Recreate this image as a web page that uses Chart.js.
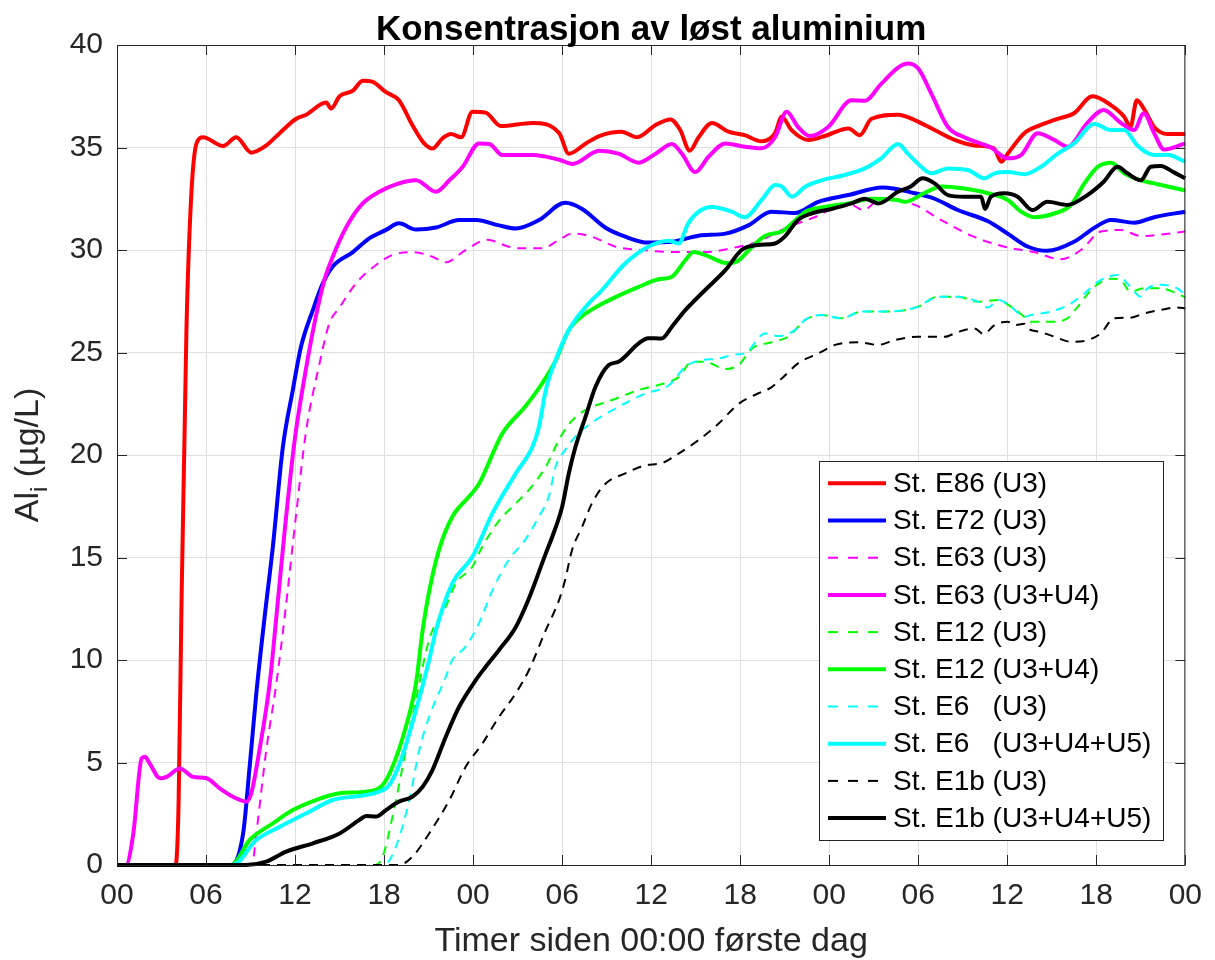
<!DOCTYPE html>
<html>
<head>
<meta charset="utf-8">
<title>Konsentrasjon av løst aluminium</title>
<script src="https://cdn.jsdelivr.net/npm/chart.js@4.4.1/dist/chart.umd.min.js"></script>
<style>
html, body { margin: 0; padding: 0; background: #fff; }
#wrap { width: 1215px; height: 960px; }
</style>
</head>
<body>
<div id="wrap"><canvas id="al-chart" width="1215" height="960"></canvas></div>
<script>
"use strict";

// timer (hours since 00:00 first day) and Al_i (ug/L)
var timerE86 = [0, 3.95, 4.15, 4.35, 4.68, 5.0, 5.36, 5.8, 7.15, 8.04, 9.05, 10.06, 10.96, 12.08, 12.75, 14.1, 14.43, 15.0, 15.9, 16.56, 17.23, 18.13, 19.0, 19.9, 20.7, 21.26, 21.94, 22.5, 23.2, 23.95, 24.85, 25.86, 28.0, 29.8, 30.45, 31.6, 32.5, 34.0, 35.05, 36.3, 37.3, 37.96, 38.6, 39.2, 40.1, 41.2, 42.3, 43.45, 44.35, 44.8, 45.46, 46.6, 47.7, 49.3, 50.06, 50.85, 52.64, 53.76, 55.1, 56.45, 57.8, 59.1, 59.6, 60.03, 61.15, 62.27, 63.4, 64.5, 65.75, 66.98, 67.88, 68.3, 68.73, 69.2, 69.9, 70.8, 72];
var alE86 = [0, 0, 3, 12.9, 26.1, 32.6, 35.2, 35.5, 35.07, 35.5, 34.75, 35.1, 35.7, 36.4, 36.6, 37.2, 36.9, 37.5, 37.77, 38.26, 38.2, 37.7, 37.3, 36.1, 35.2, 34.95, 35.45, 35.66, 35.5, 36.75, 36.7, 36.05, 36.2, 35.7, 34.7, 35.2, 35.56, 35.77, 35.5, 36.1, 36.37, 35.85, 34.84, 35.5, 36.2, 35.77, 35.6, 35.3, 35.7, 36.5, 35.85, 35.37, 35.56, 35.93, 35.6, 36.4, 36.6, 36.34, 35.85, 35.37, 35.1, 34.96, 34.3, 34.7, 35.7, 36.1, 36.4, 36.67, 37.5, 37.07, 36.5, 36.0, 37.3, 36.9, 36.0, 35.66, 35.66];

var timerE72 = [0, 7.7, 8.5, 8.94, 9.39, 9.95, 10.5, 11.18, 11.85, 12.4, 13.2, 13.87, 14.54, 15.9, 17.0, 18.13, 19.0, 20.15, 21.5, 23.06, 24.2, 25.75, 26.87, 28.44, 30.2, 31.35, 32.9, 34.26, 35.8, 37.4, 39.2, 41.0, 42.55, 44.1, 45.7, 47.26, 49.3, 51.6, 53.76, 55.1, 56.67, 58.7, 60.03, 61.4, 62.7, 64.5, 65.9, 67.0, 68.55, 69.9, 72];
var alE72 = [0, 0, 1.54, 4.79, 8.37, 12.1, 15.5, 20.4, 23.17, 25.28, 27.07, 28.37, 29.2, 29.9, 30.57, 30.98, 31.3, 31.0, 31.1, 31.46, 31.46, 31.2, 31.05, 31.46, 32.3, 32.0, 31.1, 30.65, 30.36, 30.4, 30.7, 30.8, 31.2, 31.87, 31.8, 32.35, 32.68, 33.05, 32.77, 32.5, 31.95, 31.4, 30.8, 30.16, 29.96, 30.4, 31.1, 31.46, 31.33, 31.6, 31.87];

var timerE63 = [0, 9.1, 9.39, 10.06, 10.74, 11.3, 12.08, 12.75, 13.65, 14.3, 15.0, 16.1, 17.46, 18.57, 19.9, 21.26, 22.16, 23.5, 24.96, 26.4, 27.1, 28.66, 29.8, 30.7, 32.0, 33.6, 35.4, 37.4, 39.6, 41.9, 43.2, 44.8, 47.0, 49.3, 50.3, 51.5, 53.76, 55.55, 57.57, 59.8, 61.8, 63.6, 64.97, 66.3, 67.65, 69.0, 72];
var alE63 = [0, 0, 1.54, 5.6, 8.86, 12.1, 17.15, 21.2, 24.46, 26.4, 27.2, 28.37, 29.27, 29.76, 29.9, 29.67, 29.4, 30.0, 30.5, 30.16, 30.08, 30.08, 30.5, 30.8, 30.65, 30.16, 30.0, 29.9, 29.9, 30.16, 30.4, 30.98, 31.6, 32.27, 31.95, 32.5, 32.2, 31.46, 30.7, 30.16, 29.9, 29.55, 30.0, 30.9, 30.98, 30.68, 30.9];

var timerE63u4 = [0, 0.6, 1.1, 1.66, 1.88, 2.2, 2.9, 3.34, 4.24, 5.13, 6.03, 6.92, 7.82, 8.72, 9.05, 9.6, 10.29, 10.74, 11.3, 11.97, 12.64, 13.3, 13.98, 14.54, 15.44, 16.56, 17.68, 18.8, 20.15, 21.5, 22.4, 23.3, 24.4, 25.1, 25.97, 28.0, 29.8, 30.7, 32.5, 33.8, 35.16, 36.3, 37.4, 38.07, 38.97, 39.87, 41.0, 42.3, 43.45, 44.35, 45.13, 45.9, 46.7, 47.93, 49.5, 50.4, 51.5, 52.64, 53.3, 54.0, 54.9, 56.0, 57.1, 58.9, 60.03, 60.93, 62.05, 63.17, 64.07, 65.4, 66.5, 67.65, 68.55, 69.2, 69.9, 70.57, 72];
var alE63u4 = [0, 0, 1.54, 5.2, 5.28, 4.96, 4.23, 4.3, 4.71, 4.3, 4.23, 3.74, 3.33, 3.09, 3.5, 5.6, 8.86, 12.1, 16.3, 20.7, 23.8, 26.4, 28.54, 29.67, 31.1, 32.27, 32.84, 33.2, 33.4, 32.84, 33.4, 34.06, 35.2, 35.17, 34.63, 34.63, 34.4, 34.2, 34.84, 34.7, 34.26, 34.7, 35.17, 34.7, 33.8, 34.55, 35.2, 35.04, 34.96, 35.5, 36.75, 36.0, 35.56, 36.0, 37.3, 37.28, 38.1, 38.9, 39.1, 38.85, 37.6, 36.0, 35.5, 35.0, 34.47, 34.63, 35.7, 35.37, 35.04, 36.2, 36.83, 36.2, 35.85, 36.67, 35.7, 34.9, 35.2];

var timerE12 = [0, 17.4, 17.9, 18.57, 19.25, 20.15, 21.04, 22.16, 22.84, 23.95, 24.6, 25.75, 26.64, 27.76, 28.9, 29.78, 30.45, 31.58, 33.37, 35.16, 36.9, 37.85, 38.74, 39.64, 41.0, 41.9, 42.8, 44.1, 45.24, 46.4, 47.5, 48.8, 50.2, 52.0, 53.98, 55.3, 56.7, 58.0, 59.4, 60.26, 61.15, 61.6, 62.95, 64.07, 64.74, 65.86, 67.0, 67.6, 68.3, 69.2, 70.3, 71.46, 72];
var alE12 = [0, 0, 0.4, 2.36, 4.79, 8.05, 11.0, 12.6, 13.74, 14.55, 15.5, 16.8, 17.47, 18.3, 19.43, 20.73, 21.5, 22.2, 22.68, 23.17, 23.5, 23.8, 24.55, 24.55, 24.2, 24.4, 25.2, 25.5, 25.77, 26.6, 26.83, 26.67, 27.0, 27.0, 27.23, 27.72, 27.72, 27.48, 27.56, 27.23, 26.74, 26.5, 26.5, 26.67, 27.23, 28.2, 28.6, 28.57, 27.97, 28.13, 28.13, 27.88, 27.68];

var timerE12u4 = [0, 7.7, 8.94, 10.5, 11.85, 13.4, 15.0, 16.8, 17.9, 18.57, 19.47, 20.15, 20.6, 21.0, 21.7, 22.6, 23.73, 24.4, 25.97, 27.5, 28.66, 29.56, 30.45, 31.58, 32.5, 33.6, 35.16, 36.5, 37.4, 38.3, 38.86, 39.6, 41.2, 41.9, 42.8, 43.7, 44.8, 45.5, 46.4, 47.7, 49.3, 50.85, 52.6, 53.1, 54.4, 55.55, 57.1, 58.7, 60.03, 60.93, 61.83, 63.17, 64.3, 65.2, 66.1, 67.0, 67.88, 69.0, 69.9, 72];
var alE12u4 = [0, 0, 1.22, 2.03, 2.68, 3.17, 3.5, 3.58, 3.9, 4.79, 6.74, 8.86, 11.46, 13.2, 15.37, 16.99, 17.97, 18.6, 21.05, 22.35, 23.5, 24.6, 26.1, 26.9, 27.3, 27.7, 28.2, 28.57, 28.7, 29.5, 29.9, 29.76, 29.35, 29.5, 30.16, 30.7, 30.9, 31.3, 31.87, 32.1, 32.27, 32.5, 32.44, 32.35, 32.77, 33.1, 33.0, 32.77, 32.44, 31.87, 31.6, 31.78, 32.2, 33.25, 34.06, 34.26, 33.74, 33.4, 33.25, 32.9];

var timerE6 = [0, 18.0, 18.8, 19.7, 20.37, 21.04, 22.16, 22.6, 23.5, 24.4, 25.3, 26.4, 27.5, 28.44, 29.1, 29.56, 30.2, 31.1, 32.25, 33.8, 35.6, 37.2, 38.3, 39.2, 40.5, 41.66, 42.3, 43.68, 44.6, 45.7, 46.4, 47.5, 48.8, 50.2, 52.0, 53.98, 55.3, 56.7, 58.0, 58.7, 59.4, 60.26, 61.15, 61.6, 62.95, 64.07, 65.2, 66.1, 67.43, 68.3, 69.0, 69.4, 70.3, 71.46, 72];
var alE6 = [0, 0, 0.9, 3.17, 5.6, 7.23, 9.18, 10.0, 10.65, 11.8, 13.4, 14.88, 15.85, 17.0, 17.97, 19.43, 20.24, 21.05, 21.7, 22.35, 23.0, 23.4, 24.3, 24.6, 24.7, 24.9, 24.95, 25.93, 25.8, 26.1, 26.6, 26.83, 26.67, 27.0, 27.0, 27.23, 27.72, 27.72, 27.48, 27.2, 27.56, 27.23, 26.74, 26.83, 27.0, 27.3, 27.88, 28.45, 28.78, 28.2, 27.72, 28.1, 28.3, 28.13, 27.8];

var timerE6u5 = [0, 7.8, 9.39, 10.96, 12.75, 14.54, 16.34, 17.46, 18.35, 19.14, 20.15, 21.04, 21.5, 22.6, 23.95, 25.3, 26.87, 28.0, 28.44, 28.9, 29.56, 30.45, 32.0, 32.5, 34.26, 35.8, 37.2, 37.85, 38.5, 39.2, 40.1, 41.43, 42.3, 43.45, 44.35, 44.8, 45.5, 46.4, 47.5, 49.05, 50.4, 51.5, 52.64, 53.3, 54.2, 54.88, 56.0, 57.34, 58.47, 59.14, 60.03, 61.15, 62.27, 63.4, 64.5, 65.86, 66.98, 67.88, 68.77, 69.9, 70.8, 72];
var alE6u5 = [0, 0, 1.22, 1.86, 2.52, 3.17, 3.37, 3.53, 3.9, 5.12, 7.56, 10.0, 11.46, 13.74, 15.04, 17.15, 19.1, 20.4, 21.38, 23.17, 24.63, 26.1, 27.56, 27.9, 29.35, 30.16, 30.45, 30.32, 31.3, 31.87, 32.1, 31.87, 31.6, 32.44, 33.17, 33.1, 32.6, 33.1, 33.4, 33.66, 33.98, 34.47, 35.17, 34.7, 34.06, 33.74, 33.98, 33.9, 33.5, 33.74, 33.8, 33.7, 34.06, 34.7, 35.2, 36.15, 35.85, 35.85, 35.1, 34.63, 34.65, 34.3];

var timerE1b = [0, 19.0, 19.9, 21.04, 22.4, 23.5, 24.63, 25.75, 26.87, 27.76, 28.9, 29.78, 30.2, 30.67, 31.35, 32.0, 32.92, 34.26, 35.6, 36.7, 37.85, 39.2, 40.5, 41.9, 43.2, 44.1, 44.8, 45.9, 47.26, 48.4, 49.95, 51.3, 52.4, 53.98, 55.8, 56.67, 57.8, 58.4, 59.14, 60.03, 60.5, 61.15, 61.4, 62.27, 63.17, 64.3, 65.4, 66.3, 67.2, 68.3, 69.2, 70.3, 71.46, 72];
var alE1b = [0, 0, 0.4, 1.54, 3.17, 4.79, 5.93, 7.23, 8.37, 9.5, 11.46, 12.9, 13.9, 15.37, 16.5, 17.63, 18.6, 19.1, 19.5, 19.6, 20.07, 20.73, 21.5, 22.5, 23.0, 23.3, 23.73, 24.47, 24.95, 25.37, 25.5, 25.37, 25.6, 25.77, 25.77, 26.0, 26.17, 25.9, 26.34, 26.5, 26.34, 26.4, 26.17, 26.0, 25.77, 25.52, 25.6, 25.93, 26.67, 26.7, 26.9, 27.07, 27.2, 27.15];

var timerE1bu5 = [0, 8.7, 10.06, 11.4, 13.2, 15.0, 16.34, 16.8, 17.46, 18.13, 19.0, 19.9, 20.6, 21.26, 22.16, 23.06, 24.18, 24.85, 25.75, 26.87, 27.76, 28.9, 29.33, 30.0, 30.45, 30.9, 31.58, 32.25, 33.14, 33.8, 35.16, 35.8, 36.7, 37.4, 38.3, 38.74, 39.64, 41.0, 42.1, 43.2, 44.35, 45.0, 45.9, 46.8, 48.15, 49.5, 50.4, 51.3, 52.64, 53.5, 54.3, 55.1, 56.0, 57.1, 58.24, 58.5, 58.9, 59.8, 60.7, 61.7, 62.7, 64.07, 65.4, 66.5, 67.43, 68.1, 69.0, 69.67, 70.34, 71.2, 72];
var alE1bu5 = [0, 0, 0.16, 0.65, 1.06, 1.54, 2.2, 2.39, 2.36, 2.68, 3.09, 3.33, 3.82, 4.63, 6.26, 7.72, 9.02, 9.67, 10.49, 11.6, 13.0, 15.2, 16.0, 17.47, 19.1, 20.4, 21.87, 23.33, 24.39, 24.55, 25.45, 25.7, 25.68, 26.26, 27.07, 27.4, 28.05, 29.02, 30.0, 30.24, 30.32, 30.65, 31.46, 31.78, 32.0, 32.27, 32.5, 32.27, 32.84, 33.1, 33.5, 33.25, 32.68, 32.6, 32.6, 32.0, 32.6, 32.77, 32.6, 31.95, 32.35, 32.2, 32.68, 33.33, 34.06, 33.74, 33.4, 34.06, 34.1, 33.8, 33.5];

var xTicks = [0, 6, 12, 18, 24, 30, 36, 42, 48, 54, 60, 66, 72];
var yTicks = [0, 5, 10, 15, 20, 25, 30, 35, 40];

var FONT = "'Liberation Sans', Arial, Helvetica, sans-serif";
var AXIS_COLOR = '#262626';

function pts(t, v) {
    return t.map(function (x, i) { return { x: x, y: v[i] }; });
}

// label, hours, values, colour, dashed
var series = [
    ['St. E86 (U3)', timerE86, alE86, '#ff0000', false],
    ['St. E72 (U3)', timerE72, alE72, '#0000ff', false],
    ['St. E63 (U3)', timerE63, alE63, '#ff00ff', true],
    ['St. E63 (U3+U4)', timerE63u4, alE63u4, '#ff00ff', false],
    ['St. E12 (U3)', timerE12, alE12, '#00ff00', true],
    ['St. E12 (U3+U4)', timerE12u4, alE12u4, '#00ff00', false],
    ['St. E6   (U3)', timerE6, alE6, '#00ffff', true],
    ['St. E6   (U3+U4+U5)', timerE6u5, alE6u5, '#00ffff', false],
    ['St. E1b (U3)', timerE1b, alE1b, '#000000', true],
    ['St. E1b (U3+U4+U5)', timerE1bu5, alE1bu5, '#000000', false]
];

var datasets = series.map(function (s, i) {
    return {
        label: s[0],
        data: pts(s[1], s[2]),
        borderColor: s[3],
        backgroundColor: s[3],
        borderWidth: s[4] ? 2 : 4,
        borderDash: s[4] ? [9, 7] : [],
        fill: false,
        pointRadius: 0,
        cubicInterpolationMode: 'monotone',
        clip: false,
        order: series.length - i   // later series on top, like matlab
    };
});

// frame, inward ticks, titles and the legend box
var matlabDecor = {
    id: 'matlabDecor',
    afterDatasetsDraw: function (chart) {
        var ctx = chart.ctx, a = chart.chartArea;
        var xs = chart.scales.x, ys = chart.scales.y;
        ctx.save();
        ctx.strokeStyle = AXIS_COLOR;
        ctx.lineWidth = 1;
        ctx.strokeRect(a.left + 0.5, a.top + 0.5, a.right - a.left - 1, a.bottom - a.top);
        var tl = 10;
        ctx.beginPath();
        xTicks.forEach(function (v) {
            var px = Math.round(xs.getPixelForValue(v)) + 0.5;
            ctx.moveTo(px, a.bottom); ctx.lineTo(px, a.bottom - tl);
            ctx.moveTo(px, a.top); ctx.lineTo(px, a.top + tl);
        });
        yTicks.forEach(function (v) {
            var py = Math.round(ys.getPixelForValue(v)) + 0.5;
            ctx.moveTo(a.left, py); ctx.lineTo(a.left + tl, py);
            ctx.moveTo(a.right, py); ctx.lineTo(a.right - tl, py);
        });
        ctx.stroke();
        ctx.restore();
    },
    afterDraw: function (chart) {
        var ctx = chart.ctx, a = chart.chartArea;
        var cx = (a.left + a.right) / 2, cy = (a.top + a.bottom) / 2;
        ctx.save();
        ctx.fillStyle = '#000';
        ctx.textAlign = 'center';
        ctx.textBaseline = 'alphabetic';
        ctx.font = 'bold 35px ' + FONT;
        ctx.fillText('Konsentrasjon av løst aluminium', cx, 40);

        ctx.fillStyle = AXIS_COLOR;
        ctx.font = '34px ' + FONT;
        ctx.fillText('Timer siden 00:00 første dag', cx, 951);

        // y title with subscript i
        ctx.translate(38, cy);
        ctx.rotate(-Math.PI / 2);
        ctx.textAlign = 'left';
        var big = '34px ' + FONT, small = '24px ' + FONT;
        ctx.font = big;
        var w1 = ctx.measureText('Al').width;
        var w3 = ctx.measureText(' (µg/L)').width;
        ctx.font = small;
        var w2 = ctx.measureText('i').width;
        var x0 = -(w1 + w2 + w3) / 2;
        ctx.font = big;
        ctx.fillText('Al', x0, 0);
        ctx.font = small;
        ctx.fillText('i', x0 + w1, 9);
        ctx.font = big;
        ctx.fillText(' (µg/L)', x0 + w1 + w2, 0);
        ctx.restore();

        // legend
        var lx = 819, ly = 461, lw = 344, lh = 379;
        var rowH = 37.2, firstRow = 483.3;
        ctx.save();
        ctx.fillStyle = '#fff';
        ctx.fillRect(lx, ly, lw, lh);
        ctx.strokeStyle = AXIS_COLOR;
        ctx.lineWidth = 1;
        ctx.strokeRect(lx + 0.5, ly + 0.5, lw, lh);
        ctx.font = '28px ' + FONT;
        ctx.textAlign = 'left';
        ctx.textBaseline = 'middle';
        chart.data.datasets.forEach(function (ds, i) {
            var y = firstRow + i * rowH;
            ctx.strokeStyle = ds.borderColor;
            ctx.lineWidth = ds.borderWidth;
            ctx.setLineDash(ds.borderDash.length ? [10, 10] : []);
            ctx.beginPath();
            ctx.moveTo(828, y);
            ctx.lineTo(886, y);
            ctx.stroke();
            ctx.setLineDash([]);
            ctx.fillStyle = '#000';
            ctx.fillText(ds.label, 893, y + 1);
        });
        ctx.restore();
    }
};

var alChart = new Chart(document.getElementById('al-chart'), {
    type: 'line',
    data: { datasets: datasets },
    options: {
        responsive: false,
        animation: false,
        devicePixelRatio: 1,
        layout: { padding: { top: 45, right: 26, left: 0, bottom: 0 } },
        plugins: {
            legend: { display: false },
            tooltip: { enabled: false },
            title: { display: false }
        },
        scales: {
            x: {
                type: 'linear',
                min: 0,
                max: 72,
                afterFit: function (s) { s.height = 95; },
                afterBuildTicks: function (s) { s.ticks = xTicks.map(function (v) { return { value: v }; }); },
                grid: { color: '#dfdfdf', lineWidth: 1, drawTicks: false },
                border: { display: false },
                ticks: {
                    autoSkip: false,
                    maxRotation: 0,
                    padding: 13,
                    color: AXIS_COLOR,
                    font: { family: FONT, size: 30 },
                    callback: function (v) { return String(v % 24).padStart(2, '0'); }
                }
            },
            y: {
                min: 0,
                max: 40,
                afterFit: function (s) { s.width = 117; },
                afterBuildTicks: function (s) { s.ticks = yTicks.map(function (v) { return { value: v }; }); },
                grid: { color: '#dfdfdf', lineWidth: 1, drawTicks: false },
                border: { display: false },
                ticks: {
                    padding: 14,
                    color: AXIS_COLOR,
                    font: { family: FONT, size: 30 }
                }
            }
        }
    },
    plugins: [matlabDecor]
});
</script>
</body>
</html>
